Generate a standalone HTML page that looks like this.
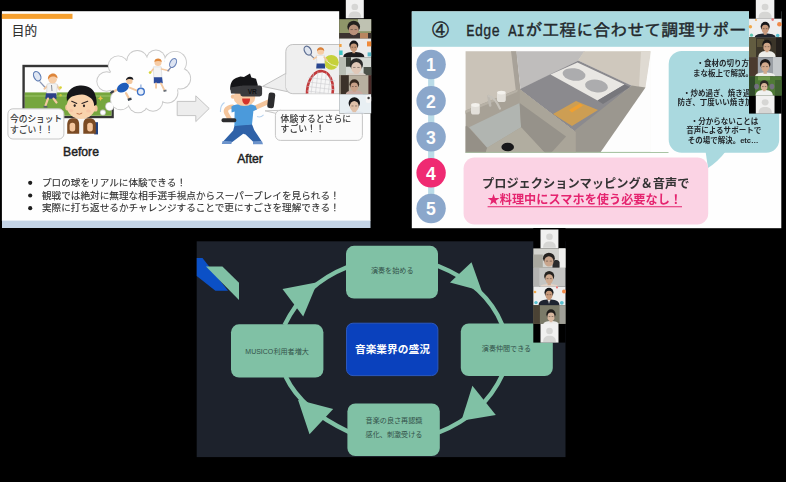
<!DOCTYPE html>
<html lang="ja"><head><meta charset="utf-8"><title>Presentation screenshots</title>
<style>
html,body{margin:0;padding:0;background:#000;}
body{width:786px;height:482px;overflow:hidden;font-family:"Liberation Sans","Noto Sans CJK JP",sans-serif;}
svg{display:block}
text{font-family:"Liberation Sans","Noto Sans CJK JP",sans-serif;}
.mono{font-family:"Liberation Mono",monospace;}
.jmono{font-family:"Liberation Mono","IPAGothic","Noto Sans CJK JP",monospace;}
</style></head><body>
<svg width="786" height="482" viewBox="0 0 786 482" style="filter:blur(0.7px)">
<defs>
<clipPath id="cTV"><rect x="24.8" y="67.2" width="86.6" height="48.6"/></clipPath>
<clipPath id="cB1"><rect x="286" y="44.6" width="60" height="48.8" rx="7"/></clipPath>
<clipPath id="cK"><rect x="465.6" y="51.2" width="184.8" height="101.6"/></clipPath>
<clipPath id="cS2"><rect x="411.5" y="11.5" width="369.5" height="215.7"/></clipPath>
<g id="avatar"><rect x="0" y="0" width="18" height="19" fill="#f1f1f0"/><circle cx="9" cy="7.2" r="3.3" fill="#d6d6d4"/><path d="M2.6 18.4 C2.6 13.6 5.2 12 9 12 C12.8 12 15.4 13.6 15.4 18.4 Z" fill="#d6d6d4"/></g>

</defs>
<g id="slide1">
<rect x="1.9" y="11.2" width="368.6" height="209.8" fill="#fefefe"/>
<rect x="2" y="220.6" width="368.5" height="7.4" fill="#c4d4e6"/>
<rect x="1.9" y="13.8" width="70.6" height="5.1" fill="#f5a030"/>
<text x="11.7" y="35.4" font-size="12.7" fill="#303030" stroke="#303030" stroke-width=".13" textLength="25.4">目的</text>
<rect x="23.6" y="66" width="89" height="51" fill="#fdfdfd" stroke="#353535" stroke-width="2.4"/>
<g clip-path="url(#cTV)">
<rect x="24" y="92.4" width="89" height="24" fill="#76a63e"/>
<rect x="24" y="95.5" width="89" height="1" fill="#9cc46a"/>
<g transform="rotate(-27 37.2 76.2)"><ellipse cx="37.2" cy="76.2" rx="3.3" ry="5" fill="#dfe6f2" stroke="#5f7db4" stroke-width="1.2"/></g>
<path d="M39.8 81.6 L45.6 88" stroke="#8a96b4" stroke-width="1.3"/>
<path d="M47.5 86 L44.5 88.8 M57 85.5 L59.5 89.5" stroke="#f3c8a0" stroke-width="2" stroke-linecap="round"/>
<path d="M47 84.2 C49 83 55 83 57.4 84.4 L56.6 94.4 L46.6 94.4 Z" fill="#f2f2f2" stroke="#c9c9c9" stroke-width=".5"/>
<path d="M51.5 85 L52 91" stroke="#5a6070" stroke-width=".7"/>
<path d="M46 93.2 L56.2 93.2 L56.6 98.8 L45.2 98.8 Z" fill="#2c4088"/>
<path d="M48 98.6 L45.5 105.5 M53.5 98.6 L56.5 102.5" stroke="#f3c8a0" stroke-width="2.2" stroke-linecap="round"/>
<path d="M43.6 106.6 L47.4 106.8" stroke="#59606a" stroke-width="1.8"/>
<circle cx="52.6" cy="79.3" r="4.3" fill="#f6cca6"/>
<path d="M48 79.6 C47 72.5 57.5 71 57.6 78.6 C56 76.8 54.5 76.3 52.5 76.5 C50.5 76.8 49 77.8 48 79.6Z" fill="#dd853a"/>
<circle cx="60.5" cy="87.6" r="1.35" fill="#d9d33a"/><circle cx="60.6" cy="95.3" r="1.2" fill="#c9c93a"/>
</g>
<g fill="#c9c9c9"><circle cx="106.6" cy="81.5" r="10.2"/><circle cx="118.2" cy="65.8" r="10.4"/><circle cx="137.3" cy="60.9" r="10.9"/><circle cx="155.9" cy="59.5" r="9.9"/><circle cx="175.2" cy="62.6" r="11.7"/><circle cx="180.2" cy="78.5" r="10.9"/><circle cx="167.5" cy="92.5" r="10.9"/><circle cx="153" cy="101.5" r="10.2"/><circle cx="138.1" cy="102.8" r="10.4"/><circle cx="120.7" cy="99.5" r="10.7"/><circle cx="109.6" cy="106.4" r="4.5"/><circle cx="102.9" cy="112.6" r="3"/></g>
<g fill="#fefefe"><circle cx="106.6" cy="81.5" r="9.3"/><circle cx="118.2" cy="65.8" r="9.5"/><circle cx="137.3" cy="60.9" r="10"/><circle cx="155.9" cy="59.5" r="9"/><circle cx="175.2" cy="62.6" r="10.8"/><circle cx="180.2" cy="78.5" r="10"/><circle cx="167.5" cy="92.5" r="10"/><circle cx="153" cy="101.5" r="9.3"/><circle cx="138.1" cy="102.8" r="9.5"/><circle cx="120.7" cy="99.5" r="9.8"/><ellipse cx="144" cy="81" rx="36" ry="23"/><circle cx="109.6" cy="106.4" r="3.6"/><circle cx="102.9" cy="112.6" r="2.2"/></g>
<g transform="translate(126 89) scale(1.22) translate(-126 -89.6)">
<path d="M119 90 L114.5 92.5 M126 93 L128.5 97.5" stroke="#f3c8a0" stroke-width="1.8" stroke-linecap="round"/>
<path d="M113.2 93 L116 91.2 M127.5 98.5 L130.5 97.5" stroke="#39404a" stroke-width="1.8"/>
<g transform="rotate(-28 123.5 88.5)"><ellipse cx="123.5" cy="88.5" rx="5.2" ry="3.6" fill="#1f5cba"/></g>
<circle cx="128.8" cy="83" r="2.6" fill="#f3c8a0"/><path d="M125.8 82.6 C126 78.5 132.5 78.5 132 82.3 C130 81 128 81 125.8 82.6Z" fill="#1e1e22"/>
<path d="M129 88.5 L135 91" stroke="#f3c8a0" stroke-width="1.5" stroke-linecap="round"/>
<circle cx="138.2" cy="91.8" r="2.8" fill="#e6eefa" stroke="#3b70c6" stroke-width="1.1"/><path d="M138.2 86 L138.2 89" stroke="#9ab4e0" stroke-width="1.2"/>
</g>
<g transform="translate(160 75) scale(1.1) translate(-159.6 -75.4)">
<path d="M153.5 68 L160.8 68 L161.3 78 L154 78 Z" fill="#f4f4f4" stroke="#d0d0d0" stroke-width=".5"/>
<path d="M154 77.5 L161.5 77.5 L162.2 83 L154 83 Z" fill="#2c4b9c"/>
<path d="M156 83 L156 87 M160.5 83 L163.5 89" stroke="#f3c8a0" stroke-width="1.7" stroke-linecap="round"/>
<path d="M162.8 90 L165.5 89.3" stroke="#6a7078" stroke-width="1.6"/>
<path d="M161 70 L167.5 71.5 M153.5 70 L151.5 72.5" stroke="#f3c8a0" stroke-width="1.5" stroke-linecap="round"/>
<circle cx="157.8" cy="64" r="3.2" fill="#f6cca6"/><path d="M154.5 63.5 C154.3 59.5 161.3 59.3 161.2 63.6 C159.5 62.3 156.5 62.3 154.5 63.5Z" fill="#e0873a"/>
<g transform="rotate(28 171.5 64.5)"><ellipse cx="171.5" cy="64.5" rx="2.7" ry="4.4" fill="#dde4f2" stroke="#6a84ba" stroke-width="1"/></g>
<path d="M169.5 68.5 L166.5 72" stroke="#7a86a8" stroke-width="1.1"/>
<circle cx="150.6" cy="73.2" r="1.2" fill="#d6d438"/>
</g>
<rect x="94.2" y="122.2" width="3.8" height="12.2" fill="#23427e"/>
<rect x="78.6" y="117" width="5.4" height="17" fill="#f6f6f6"/>
<path d="M67.2 125 C67.2 119.5 70 118.2 73.5 118.2 C77.5 118.2 79.2 120 79.2 125 L79.2 133.8 L67.2 133.8 Z" fill="#7b4b24"/>
<path d="M83.3 125 C83.3 120 85 118.2 89 118.2 C93 118.2 95.8 119.5 95.8 125 L95.8 133.8 L83.3 133.8 Z" fill="#7b4b24"/>
<rect x="69.6" y="122.8" width="5.6" height="8.6" rx="2.6" fill="#f4c59c"/><rect x="87.2" y="122.8" width="5.6" height="8.6" rx="2.6" fill="#f4c59c"/>
<ellipse cx="67.2" cy="107.5" rx="2" ry="3" fill="#f4c59c"/><ellipse cx="95.4" cy="108.4" rx="2.2" ry="3.2" fill="#f4c59c"/>
<ellipse cx="81.1" cy="106.2" rx="14.3" ry="12.9" fill="#f9d3ad"/>
<path d="M66.9 100.4 C65.6 92 71 86.6 79.7 85.6 C88 85 93.5 89 95 94 C96.6 98.5 96.9 102 96.6 104.6 L94.2 106 C94 102.4 93 100.2 91 98.2 C88 95.6 85 94.6 82 94.4 C78 94.6 74 95.4 71.9 96.6 C69.7 97.8 68.2 99.4 66.9 101.6Z" fill="#161619"/>
<path d="M71.7 101.2 L76.8 103.4 M81.9 103.4 L87.7 101.2" stroke="#2a2222" stroke-width="1.1" stroke-linecap="round"/>
<ellipse cx="74.7" cy="105.6" rx="1.1" ry="1.4" fill="#2a2222"/><ellipse cx="84" cy="105.8" rx="1.1" ry="1.4" fill="#2a2222"/>
<path d="M76.6 113.4 Q79.4 115.2 82.2 113" stroke="#b5653f" stroke-width=".9" fill="none"/>
<ellipse cx="88.5" cy="111" rx="2.4" ry="1.6" fill="#f6bfa0" opacity=".7"/><ellipse cx="71" cy="110.6" rx="2.2" ry="1.5" fill="#f6bfa0" opacity=".7"/>
<path d="M99.6 97.5 l.9 -1.7 l.9 1.7 l1.7 .9 l-1.7 .9 l-.9 1.7 l-.9 -1.7 l-1.7 -.9z" fill="#e9c24a"/>
<rect x="7.9" y="108.8" width="56" height="30.2" rx="5" fill="#fbfbfb" stroke="#c6c6c6" stroke-width="1"/>
<text x="10" y="122.4" font-size="8.7" fill="#2c2c2c" stroke="#2c2c2c" stroke-width=".13" textLength="52.2">今のショット</text>
<text x="10" y="132.6" font-size="8.7" fill="#2c2c2c" stroke="#2c2c2c" stroke-width=".13" textLength="43.5">すごい！！</text>
<path d="M177.2 101.4 L195.8 101.4 L195.8 95.8 L209.2 108.5 L195.8 121.6 L195.8 115.6 L177.2 115.6 Z" fill="#ededed" stroke="#c4c4c4" stroke-width="1" stroke-linejoin="round"/>
<text x="81" y="156.2" font-size="12.2" text-anchor="middle" fill="#222" stroke="#222" stroke-width=".45">Before</text>
<text x="250" y="163.2" font-size="12.2" text-anchor="middle" fill="#222" stroke="#222" stroke-width=".45">After</text>
<path d="M224.5 102.5 q-4.5 3 -4 9.5 M257 116.5 q3.5 1.4 6.6 -1.6" stroke="#b9d3ee" stroke-width="1.1" fill="none"/>
<path d="M234.6 125.2 L251.9 124 L254.2 130 L261.8 141.6 L253.4 142 L245.6 134.6 L243.2 133.8 L231.6 142.4 L223.4 141.2 L233.2 130.6 Z" fill="#2f62a8"/>
<path d="M222.6 140.9 L231.6 141.3 L231.4 144 L221.8 144 Z M253 141.3 L262 141.3 L263 144.3 L253 144.3 Z" fill="#6c93cb"/>
<path d="M232.6 106.6 C227 107 224.6 110.2 226.6 113.6 L229.6 118.8" stroke="#f4c59c" stroke-width="4.4" stroke-linecap="round" fill="none"/>
<path d="M254.6 108 L269.4 101.4" stroke="#f4c59c" stroke-width="4.6" stroke-linecap="round"/>
<path d="M231.4 106.6 C236 103 250 103 255.6 106 L257 109.6 L253.4 111 L252 124.4 L234.4 126 L234.6 111.6 L231.6 112.6 Z" fill="#4b9adb"/>
<rect x="221.5" y="118.2" width="14.8" height="4.1" rx="1.7" fill="#2c2c2e"/>
<g transform="rotate(7 271.2 100.4)"><rect x="267.9" y="92.6" width="6.7" height="15.6" rx="2.2" fill="#2c2c2e"/></g>
<circle cx="233" cy="96.6" r="2.2" fill="#f2c29a"/>
<ellipse cx="244.4" cy="97.4" rx="10.8" ry="8.6" fill="#f7caa4"/>
<path d="M242.2 98.4 L250 98.4 C250.2 106.4 242 106.4 242.2 98.4Z" fill="#d5342b"/>
<path d="M230.3 89.8 C229.8 84 232 79.6 236 78 L240.4 76.4 L244 77 L250 73.4 L251.4 77.4 L256 78.8 L257.8 85 L257 89 Z" fill="#151518"/>
<path d="M230.2 87.4 L241 85.8 L241 93.8 L231 93.4 Z" fill="#3e3e41"/>
<rect x="240.3" y="85.6" width="21.8" height="10.8" rx="2.4" fill="#3a3a3d"/>
<text x="252.3" y="93.6" font-size="6.6" font-weight="bold" text-anchor="middle" fill="#121214">VR</text>
<path d="M286.5 73 L262.6 86.4 L290 92.2 Z" fill="#eeeeee" stroke="#c2c2c2" stroke-width="1" stroke-linejoin="round"/>
<rect x="285.8" y="44.5" width="62" height="49.2" rx="7" fill="#efefef" stroke="#c2c2c2" stroke-width="1"/>
<path d="M286.7 74.4 L286.7 87 L290 91.6" stroke="#efefef" stroke-width="1.8" fill="none"/>
<g clip-path="url(#cB1)">
<g transform="rotate(7 320 90.5)"><ellipse cx="320" cy="90.5" rx="12.8" ry="19.4" fill="#f6f6f6" stroke="#c23a3c" stroke-width="2.6"/>
<path d="M311.5 74 L311.5 112 M315.8 72 L315.8 112 M320 72 L320 112 M324.2 72 L324.2 112 M328.5 74 L328.5 112 M307 79 L334 79 M307 83.5 L334 83.5 M307 88 L334 88 M307 92.5 L334 92.5" stroke="#cfcfd2" stroke-width=".6"/></g>
<circle cx="331.3" cy="62.3" r="7.4" fill="#c6d13a"/><path d="M325.4 60 Q331 66 338 66.6" stroke="#eef2c0" stroke-width="1" fill="none"/>
<g transform="rotate(-30 307.8 50.6)"><ellipse cx="307.8" cy="50.6" rx="3.2" ry="4.8" fill="#dfe5ef" stroke="#5f7094" stroke-width="1.3"/></g>
<path d="M310.2 54.6 L314.5 58.6" stroke="#7a859c" stroke-width="1.2"/>
<path d="M316.4 55.4 L324.4 55.4 L324.8 64.4 L317 64.4 Z" fill="#f6f6f6" stroke="#d0d0d0" stroke-width=".5"/>
<path d="M316.6 63.6 L324.8 63.6 L325.2 68.6 L316.2 68.6Z" fill="#28458f"/>
<path d="M316.4 57.2 L313.6 59 M324.2 57.2 L327 60.4" stroke="#f3c8a0" stroke-width="1.6" stroke-linecap="round"/>
<circle cx="320.6" cy="51.2" r="3.5" fill="#f6cca6"/><path d="M317 51 C316.6 46 324.4 45.8 324.3 51 C322.4 49.4 319.2 49.4 317 51Z" fill="#d9803a"/>
</g>
<path d="M276.5 113.5 L265 110.8 L281 110.3 Z" fill="#fbfbfb" stroke="#c6c6c6" stroke-width="1" stroke-linejoin="round"/>
<rect x="275.4" y="110.3" width="87" height="30.1" rx="5" fill="#fbfbfb" stroke="#c6c6c6" stroke-width="1"/>
<text x="280.6" y="121.7" font-size="8.8" fill="#2c2c2c" stroke="#2c2c2c" stroke-width=".13" textLength="70.4">体験するとさらに</text>
<text x="280.6" y="131.9" font-size="8.8" fill="#2c2c2c" stroke="#2c2c2c" stroke-width=".13" textLength="44">すごい！！</text>
<circle cx="30.2" cy="182.8" r="2.1" fill="#1e1e1e"/>
<text x="42" y="186" font-size="9.6" fill="#2e2e2e" stroke="#2e2e2e" stroke-width=".1" textLength="144">プロの球をリアルに体験できる！</text>
<circle cx="30.2" cy="195.5" r="2.1" fill="#1e1e1e"/>
<text x="42" y="198.7" font-size="9.6" fill="#2e2e2e" stroke="#2e2e2e" stroke-width=".1" textLength="297.6">観戦では絶対に無理な相手選手視点からスーパープレイを見られる！</text>
<circle cx="30.2" cy="208.2" r="2.1" fill="#1e1e1e"/>
<text x="42" y="211.4" font-size="9.6" fill="#2e2e2e" stroke="#2e2e2e" stroke-width=".1" textLength="297.6">実際に打ち返せるかチャレンジすることで更にすごさを理解できる！</text>
</g>
<g id="thumbs1">
<rect x="339.2" y="0" width="32" height="113.4" fill="#000"/>
<use href="#avatar" transform="translate(345.8 0) scale(1.0 0.96)"/>
<rect x="339.2" y="19.2" width="32" height="19.4" fill="#8f9669"/><rect x="358" y="19.2" width="13.2" height="12" fill="#bfc2b2"/><rect x="339.2" y="33" width="32" height="5.6" fill="#3b3230"/><rect x="360" y="33" width="8" height="5.6" fill="#b98660"/>
<ellipse cx="353.7" cy="26.704" rx="6.38" ry="5.848" fill="#24201e"/><ellipse cx="353.7" cy="29.832" rx="4.988" ry="5.304" fill="#b9917a"/><path d="M350.51 29.56 h2.32 M354.57 29.56 h2.32" stroke="#2a2220" stroke-width=".8" opacity=".55"/>
<rect x="339.2" y="38.6" width="32" height="18.6" fill="#ebebeb"/>
<rect x="339.2" y="50.5" width="3.4" height="4.5" fill="#3cc4c4"/><rect x="367" y="41.4" width="4.2" height="5" fill="#f08a3a"/><rect x="367.6" y="52.4" width="3.6" height="4" fill="#58b8c8"/><rect x="339.2" y="44" width="2.4" height="3" fill="#f0a040"/>
<path d="M343.3 57.2 C343.3 53 348.55 52 353.8 52 C359.05 52 364.3 53 364.3 57.2 Z" fill="#1c1c1e"/><rect x="352.365" y="49.32" width="2.87" height="3.88" fill="#c6997a"/><ellipse cx="353.8" cy="45.056" rx="4.51" ry="4.472" fill="#17171a"/><ellipse cx="353.8" cy="47.448" rx="3.526" ry="4.056" fill="#c6997a"/><path d="M351.545 47.24 h1.64 M354.415 47.24 h1.64" stroke="#2a2220" stroke-width=".8" opacity=".55"/>
<rect x="339.2" y="57.2" width="32" height="18" fill="#d6dad5"/><rect x="346" y="57.2" width="5" height="9.5" fill="#3b4139"/><rect x="339.2" y="57.2" width="6.8" height="18" fill="#b9beb4"/><rect x="363.6" y="67" width="7.6" height="8.2" fill="#4b5149"/>
<path d="M346.9 75.2 C346.9 73.6 351.65 72.6 356.4 72.6 C361.15 72.6 365.9 73.6 365.9 75.2 Z" fill="#d8d0c8"/><rect x="354.3" y="70.32" width="4.2" height="3.48" fill="#e0c8b8"/><ellipse cx="356.4" cy="64.416" rx="6.6" ry="6.192" fill="#2a2a2a"/><ellipse cx="356.4" cy="67.728" rx="5.16" ry="5.616" fill="#e0c8b8"/><path d="M353.1 67.44 h2.4 M357.3 67.44 h2.4" stroke="#2a2220" stroke-width=".8" opacity=".55"/>
<rect x="339.2" y="75.2" width="32" height="19" fill="#b8b0a0"/><rect x="341" y="75.2" width="7.8" height="19" fill="#3b3129"/><rect x="339.2" y="75.2" width="1.8" height="19" fill="#8a8072"/><rect x="368.4" y="75.2" width="2.8" height="19" fill="#4a2a28"/>
<path d="M345.8 94.2 C345.8 91.6 350.05 90.6 354.3 90.6 C358.55 90.6 362.8 91.6 362.8 94.2 Z" fill="#c8a8a0"/><rect x="352.76" y="88.76" width="3.08" height="3.04" fill="#c8a088"/><ellipse cx="354.3" cy="84.168" rx="4.84" ry="4.816" fill="#33261e"/><ellipse cx="354.3" cy="86.744" rx="3.784" ry="4.368" fill="#c8a088"/><path d="M351.88 86.52 h1.76 M354.96 86.52 h1.76" stroke="#2a2220" stroke-width=".8" opacity=".55"/>
<rect x="339.2" y="94.2" width="32" height="19.2" fill="#e8eff3"/>
<rect x="365.8" y="95" width="5.4" height="8" rx="2" fill="#f6f6f6"/><circle cx="368.6" cy="98" r="1.2" fill="#3a3a3a"/>
<path d="M344.3 113.4 C344.3 112 349.3 111 354.3 111 C359.3 111 364.3 112 364.3 113.4 Z" fill="#dfe6ee"/><rect x="352.48" y="108.68" width="3.64" height="3.52" fill="#e0c0a8"/><ellipse cx="354.3" cy="103.104" rx="5.72" ry="5.848" fill="#161618"/><ellipse cx="354.3" cy="106.232" rx="4.472" ry="5.304" fill="#e0c0a8"/><path d="M351.44 105.96 h2.08 M355.08 105.96 h2.08" stroke="#2a2220" stroke-width=".8" opacity=".55"/>
</g>
<g id="slide2">
<rect x="411.8" y="11.4" width="369.5" height="216.8" fill="#fefefe"/>
<rect x="411.8" y="11.4" width="369.5" height="35.4" fill="#aad9df"/>
<text class="jmono" x="432.1" y="36.3" font-size="17" fill="#23282c" stroke="#23282c" stroke-width=".43">④</text>
<text class="mono" x="466.3" y="36" font-size="16" fill="#23282c" stroke="#23282c" stroke-width=".35" textLength="58.6" lengthAdjust="spacingAndGlyphs">Edge AI</text>
<text class="jmono" x="525.3" y="36.3" font-size="17" fill="#23282c" stroke="#23282c" stroke-width=".43" textLength="238">が工程に合わせて調理サポート</text>
<rect x="428.1" y="65" width="6.2" height="144" fill="#bbdce8"/>
<circle cx="431.1" cy="64.5" r="14.7" fill="#8ba7cb"/>
<text x="431" y="71.3" font-size="17.6" font-weight="bold" text-anchor="middle" fill="#fdfdfd">1</text>
<circle cx="431.1" cy="100.8" r="14.7" fill="#8ba7cb"/>
<text x="431" y="107.6" font-size="17.6" font-weight="bold" text-anchor="middle" fill="#fdfdfd">2</text>
<circle cx="431.1" cy="136.8" r="14.7" fill="#8ba7cb"/>
<text x="431" y="143.6" font-size="17.6" font-weight="bold" text-anchor="middle" fill="#fdfdfd">3</text>
<circle cx="431.1" cy="172.8" r="14.7" fill="#ef2a72"/>
<text x="431" y="179.6" font-size="17.6" font-weight="bold" text-anchor="middle" fill="#fdfdfd">4</text>
<circle cx="431.1" cy="208.5" r="14.7" fill="#8ba7cb"/>
<text x="431" y="215.3" font-size="17.6" font-weight="bold" text-anchor="middle" fill="#fdfdfd">5</text>
<g clip-path="url(#cK)">
<rect x="465" y="51" width="186" height="102" fill="#fbfaf8"/>
<path d="M465 51 L516 51 L520 89 L465 114.5 Z" fill="#cac3b8"/>
<path d="M511 51 L516.5 51 L520.5 90 L516 92 Z" fill="#a8a299"/>
<path d="M516.3 51 L585 51 L578.2 60.5 L520.5 89.5 Z" fill="#bfbdbc"/>
<path d="M584 51 L651 51 L645.5 88 L631.8 86 L578.2 60.5 Z" fill="#cfc8bd"/>
<path d="M641 51 L651 51 L645.5 88 L639 87 Z" fill="#dfdad2"/>
<path d="M651 51 L652 51 L652 153 L600 153 L645.5 87 Z" fill="#fdfdfd"/>
<path d="M519.7 89.2 L578.2 60.5 L631.8 85.8 L575.5 132 Z" fill="#8b8a8e"/>
<path d="M631.8 85.5 L645.5 87.5 L600 153 L574 153 L574 131 Z" fill="#9b978f"/>
<path d="M519.7 89.2 L575.5 132 L575.5 153 L560 153 L521 104 Z" fill="#a19c93"/>
<path d="M550.5 74.5 L577.5 62.5 L624.5 84.5 L597.5 100.5 Z" fill="#e9e7e3"/>
<path d="M597.5 100.5 L624.5 84.5 L630 87 L603 104 Z" fill="#77777c"/>
<ellipse cx="574" cy="74.5" rx="11.5" ry="6.2" fill="#acacae" transform="rotate(8 574 74.5)"/>
<ellipse cx="596.5" cy="86" rx="11.5" ry="6.4" fill="#acacae" transform="rotate(8 596.5 86)"/>
<path d="M553 114 L576 101 L598 110 L572 126 Z" fill="#d3a04e" opacity=".92"/>
<path d="M569 110 L580 103.5 L583 105.5 L572 112.5 Z" fill="#f0a030"/>
<path d="M465 110.8 L517.2 89.5 L519.7 89.2 L575.5 132 L575.5 153 L465 153 Z" fill="#a7a196"/>
<path d="M465 113.5 L517.2 92 L518 89.5 L465 110.8 Z" fill="#b7b1a6"/>
<path d="M519.7 89.2 L575.5 132 L575.5 153 L551 153 L566 136.5 L519.6 102.9 Z" fill="#aaa599"/>
<path d="M466.7 125.7 L469.1 128 L487.2 147.8 L485.6 153 L465 153 L465 126.5 Z" fill="#959087"/>
<path d="M469.1 127.3 L519.6 102.9 L521.1 127.3 L487.2 147.8 Z" fill="#b1b5b1"/>
<path d="M519.6 102.9 L566 136.5 L551 153 L545 153 L521.1 127.3 Z" fill="#96928a"/>
<path d="M487.2 147.8 L521.1 127.3 L545 153 L485.6 153 Z" fill="#b1ada0"/>
<ellipse cx="507.7" cy="147" rx="6.3" ry="4.3" fill="#18181a"/>
<rect x="471" y="104.2" width="8.8" height="10.4" rx="2.6" fill="#e3e0da"/><ellipse cx="475.4" cy="105" rx="4.3" ry="1.9" fill="#f3f1ec"/>
<rect x="497" y="91.8" width="8.8" height="10.2" rx="2.6" fill="#e3e0da"/><ellipse cx="501.4" cy="92.6" rx="4.3" ry="1.9" fill="#f3f1ec"/>
<path d="M488.4 96 L490.2 105.5" stroke="#bdb9b1" stroke-width="2.6" stroke-linecap="round"/><path d="M488.6 96 C493 97 497 102 500 108.6" stroke="#c6c2ba" stroke-width="2.2" fill="none" stroke-linecap="round"/>
<path d="M465 152.4 L669 152.4" stroke="#a9c4a4" stroke-width="1"/>
</g>
<path d="M598 152.5 L668.5 152.5" stroke="#a9c4a4" stroke-width="1"/>
<path d="M705.5 151 L708 168 C714 164 721 158 726 151 Z" fill="#aad9df"/>
<rect x="668.7" y="51" width="110.5" height="101.8" rx="13" fill="#aad9df"/>
<text x="696.4" y="66.2" font-size="7.5" font-weight="bold" fill="#22262a" textLength="60">・食材の切り方を</text>
<text x="693" y="76.3" font-size="7.5" font-weight="bold" fill="#22262a" textLength="60">まな板上で解説。</text>
<text x="682.95" y="95.6" font-size="7.5" font-weight="bold" fill="#22262a" textLength="82.5">・炒め過ぎ、焼き過ぎを</text>
<text x="677.5" y="104.9" font-size="7.5" font-weight="bold" fill="#22262a" textLength="90">防ぎ、丁度いい焼き加減に</text>
<text x="690.75" y="124" font-size="7.5" font-weight="bold" fill="#22262a" textLength="67.5">・分からないことは</text>
<text x="686.2" y="133.2" font-size="7.5" font-weight="bold" fill="#22262a" textLength="75">音声によるサポートで</text>
<text x="687.67" y="142.8" font-size="7.5" font-weight="bold" fill="#22262a">その場で解決。etc…</text>
<rect x="463.6" y="157.6" width="244.6" height="66.8" rx="11" fill="#fbd3e4"/>
<text x="482" y="187.9" font-size="12.2" font-weight="bold" fill="#343434" textLength="207.4">プロジェクションマッピング＆音声で</text>
<text x="487.6" y="204.2" font-size="12.15" font-weight="bold" fill="#e5246f" textLength="194.4">★料理中にスマホを使う必要なし！</text>
<path d="M487.6 206.8 L682 206.8" stroke="#e5246f" stroke-width="1.1"/>
</g>
<g id="thumbs2">
<rect x="749" y="0" width="32.6" height="113.6" fill="#000"/>
<use href="#avatar" transform="translate(755.8 0) scale(1.03 0.985)"/>
<rect x="749" y="18.7" width="32.6" height="18.8" fill="#eeeeee"/>
<circle cx="779.4" cy="24.3" r="2.3" fill="#f08a4a"/><circle cx="777.7" cy="35.6" r="1.8" fill="#58c0d0"/><circle cx="750.4" cy="26.8" r="1.7" fill="#f0a84a"/><circle cx="751.5" cy="35.2" r="1.6" fill="#5cc4b0"/><circle cx="772.7" cy="19.6" r="1.3" fill="#e87a7a"/><circle cx="756" cy="20" r="1.1" fill="#f0b060"/>
<path d="M754.7 37.5 C754.7 34.6 759.95 33.6 765.2 33.6 C770.45 33.6 775.7 34.6 775.7 37.5 Z" fill="#20242c"/><rect x="763.765" y="30.84" width="2.87" height="3.96" fill="#c89a7c"/><ellipse cx="765.2" cy="26.412" rx="4.51" ry="4.644" fill="#17171a"/><ellipse cx="765.2" cy="28.896" rx="3.526" ry="4.212" fill="#c89a7c"/><path d="M762.945 28.68 h1.64 M765.815 28.68 h1.64" stroke="#2a2220" stroke-width=".8" opacity=".55"/>
<rect x="749" y="37.5" width="32.6" height="19.6" fill="#3b3529"/><rect x="749" y="37.5" width="7" height="19.6" fill="#625c40"/><rect x="776" y="37.5" width="5.6" height="19.6" fill="#231f1c"/><rect x="757" y="39" width="7" height="8" fill="#5a5238"/>
<path d="M758.4 57.1 C758.4 52 762.7 51 767 51 C771.3 51 775.6 52 775.6 57.1 Z" fill="#ecece8"/><rect x="765.495" y="48.84" width="3.01" height="3.36" fill="#cfa688"/><ellipse cx="767" cy="44.412" rx="4.73" ry="4.644" fill="#1b1918"/><ellipse cx="767" cy="46.896" rx="3.698" ry="4.212" fill="#cfa688"/><path d="M764.635 46.68 h1.72 M767.645 46.68 h1.72" stroke="#2a2220" stroke-width=".8" opacity=".55"/>
<rect x="749" y="57.1" width="32.6" height="19.2" fill="#9ba0a6"/><rect x="773" y="57.1" width="8.6" height="19.2" fill="#c5c9cc"/><rect x="749" y="57.1" width="8.8" height="19.2" fill="#4b3b2f"/>
<path d="M755.2 76.3 C755.2 73.6 760.2 72.6 765.2 72.6 C770.2 72.6 775.2 73.6 775.2 76.3 Z" fill="#eeeeea"/><rect x="763.52" y="69" width="3.36" height="4.8" fill="#d2aa8c"/><ellipse cx="765.2" cy="64.08" rx="5.28" ry="5.16" fill="#1b1918"/><ellipse cx="765.2" cy="66.84" rx="4.128" ry="4.68" fill="#d2aa8c"/><path d="M762.56 66.6 h1.92 M765.92 66.6 h1.92" stroke="#2a2220" stroke-width=".8" opacity=".55"/>
<rect x="749" y="76.3" width="32.6" height="19.2" fill="#4f7a36"/><rect x="749" y="76.3" width="6" height="19.2" fill="#30492a"/><rect x="775" y="80" width="6.6" height="15.5" fill="#3f6230"/><rect x="758" y="76.3" width="12" height="4" fill="#6f9a4c"/>
<ellipse cx="756.6" cy="86.6" rx="2.4" ry="2.8" fill="#7c6e92" opacity=".8"/><ellipse cx="772" cy="86.6" rx="2.4" ry="2.8" fill="#7c6e92" opacity=".8"/>
<path d="M755.6 95.5 C755.6 91 759.9 90 764.2 90 C768.5 90 772.8 91 772.8 95.5 Z" fill="#f0f2f0"/><rect x="762.835" y="88.54" width="2.73" height="2.66" fill="#d8b498"/><ellipse cx="764.2" cy="84.522" rx="4.29" ry="4.214" fill="#2a2622"/><ellipse cx="764.2" cy="86.776" rx="3.354" ry="3.822" fill="#d8b498"/><path d="M762.055 86.58 h1.56 M764.785 86.58 h1.56" stroke="#2a2220" stroke-width=".8" opacity=".55"/>
<use href="#avatar" transform="translate(755.8 95.5) scale(1.04 0.952)"/>
</g>
<g id="slide3">
<rect x="196.7" y="241.3" width="368.8" height="215.8" fill="#1d222c"/>
<path d="M196.7 258 L202.5 258 L228 290.8 L215.4 290.8 L196.7 276 Z" fill="#0b50c6"/>
<path d="M206 266.4 L222.4 266.4 L239 282.8 L239 300 Z" fill="#80c1a5"/>
<g fill="none" stroke="#80c1a5" stroke-width="4.4">
<path d="M284.6 325 Q304.4 284 347 267.2"/>
<path d="M437.5 265.8 Q486 285 502.3 325"/>
<path d="M502.3 374.8 Q484.1 414.3 438.5 432.5"/>
<path d="M349 431.9 Q301.5 410 285.6 376.5"/>
</g>
<g fill="#80c1a5">
<path d="M282.5 289 L317.5 282.2 L303.2 316.4 Z"/>
<path d="M471.5 262.3 L450 282.4 L481.7 290.9 Z"/>
<path d="M472.4 385.8 L495.8 415 L461.4 420.8 Z"/>
<path d="M298 399.8 L333.2 409 L309.5 434.2 Z"/>
<rect x="346" y="245.8" width="92" height="52.8" rx="8"/>
<rect x="231" y="324.3" width="92.4" height="53.3" rx="8"/>
<rect x="460.8" y="323.4" width="92" height="52.6" rx="8"/>
<rect x="347.4" y="403.4" width="92.4" height="52.6" rx="8"/>
</g>
<rect x="346.5" y="323.2" width="91.4" height="52.4" rx="6.5" fill="#0a41bd" stroke="#2f5cc4" stroke-width=".9"/>
<text x="370.9" y="272.6" font-size="7.1" fill="#33524a" textLength="42.6">演奏を始める</text>
<text x="245.3" y="353.6" font-size="7" fill="#33524a" textLength="28" lengthAdjust="spacingAndGlyphs">MUSICO</text>
<text x="273.4" y="353.7" font-size="7.1" fill="#33524a" textLength="35.5">利用者増大</text>
<text x="354.95" y="353.3" font-size="10.7" font-weight="bold" fill="#fdfdfd" textLength="74.9">音楽業界の盛況</text>
<text x="481.82" y="350.8" font-size="7.05" fill="#33524a" textLength="49.35">演奏仲間できる</text>
<text x="365.6" y="423.2" font-size="7.1" fill="#33524a" textLength="56.8">音楽の良さ再認識</text>
<text x="365.6" y="436.6" font-size="7.1" fill="#33524a" textLength="56.8">感化、刺激受ける</text>
</g>
<g id="thumbs3">
<rect x="533.3" y="228" width="32.2" height="114.6" fill="#000"/>
<use href="#avatar" transform="translate(540.5 229.5) scale(0.995 0.995)"/>
<rect x="533.3" y="248.4" width="32.2" height="19.4" fill="#d3d3ce"/><rect x="559" y="248.4" width="6.5" height="19.4" fill="#f0f0ee"/><rect x="533.3" y="254.5" width="9.5" height="13.3" fill="#a9a89f"/>
<path d="M552.5 267.8 L552.5 262 C554.5 259.4 558 259.4 559.6 262 L559.6 267.8Z" fill="#2b2b2c"/>
<ellipse cx="548.9" cy="258.348" rx="5.94" ry="5.676" fill="#25221f"/><ellipse cx="548.9" cy="261.384" rx="4.644" ry="5.148" fill="#c9a58c"/><path d="M545.93 261.12 h2.16 M549.71 261.12 h2.16" stroke="#2a2220" stroke-width=".8" opacity=".55"/>
<rect x="533.3" y="267.8" width="32.2" height="18.7" fill="#c5c5c3"/><rect x="533.3" y="267.8" width="6" height="18.7" fill="#b3b3b1"/>
<path d="M540.2 286.5 C540.2 285 544.7 284 549.2 284 C553.7 284 558.2 285 558.2 286.5 Z" fill="#e3d2c6"/><rect x="547.59" y="281" width="3.22" height="4.2" fill="#cfa98e"/><ellipse cx="549.2" cy="276.08" rx="5.06" ry="5.16" fill="#25221f"/><ellipse cx="549.2" cy="278.84" rx="3.956" ry="4.68" fill="#cfa98e"/><path d="M546.67 278.6 h1.84 M549.89 278.6 h1.84" stroke="#2a2220" stroke-width=".8" opacity=".55"/>
<rect x="533.3" y="286.5" width="32.2" height="18.7" fill="#eeeeee"/>
<circle cx="564" cy="291.5" r="2" fill="#f08a4a"/><circle cx="561.8" cy="302.8" r="1.9" fill="#58c0d0"/><circle cx="536" cy="302.6" r="1.7" fill="#58c0d0"/><circle cx="535" cy="292" r="1.3" fill="#f0a84a"/><circle cx="557" cy="287.4" r="1.1" fill="#e87a7a"/>
<path d="M538.6 305.2 C538.6 300.6 543.8 299.6 549 299.6 C554.2 299.6 559.4 300.6 559.4 305.2 Z" fill="#1e2430"/><rect x="547.565" y="296.84" width="2.87" height="3.96" fill="#c89a7c"/><ellipse cx="549" cy="292.412" rx="4.51" ry="4.644" fill="#17171a"/><ellipse cx="549" cy="294.896" rx="3.526" ry="4.212" fill="#c89a7c"/><path d="M546.745 294.68 h1.64 M549.615 294.68 h1.64" stroke="#2a2220" stroke-width=".8" opacity=".55"/>
<path d="M548 300 L549 304 L550 300 Z" fill="#e8e8e8"/>
<rect x="533.3" y="305.2" width="32.2" height="18.7" fill="#7b7b69"/><rect x="533.3" y="305.2" width="6.6" height="18.7" fill="#4a4234"/><rect x="559.5" y="305.2" width="6" height="18.7" fill="#a0a098"/>
<path d="M543.4 323.9 C543.4 322 547.2 321 551 321 C554.8 321 558.6 322 558.6 323.9 Z" fill="#ececea"/><rect x="549.53" y="318.76" width="2.94" height="3.44" fill="#d8b8a0"/><ellipse cx="551" cy="314.168" rx="4.62" ry="4.816" fill="#1f1c1a"/><ellipse cx="551" cy="316.744" rx="3.612" ry="4.368" fill="#d8b8a0"/><path d="M548.69 316.52 h1.68 M551.63 316.52 h1.68" stroke="#2a2220" stroke-width=".8" opacity=".55"/>
<use href="#avatar" transform="translate(540.5 323.9) scale(1.0 0.985)"/>
</g>
</svg>
</body></html>
